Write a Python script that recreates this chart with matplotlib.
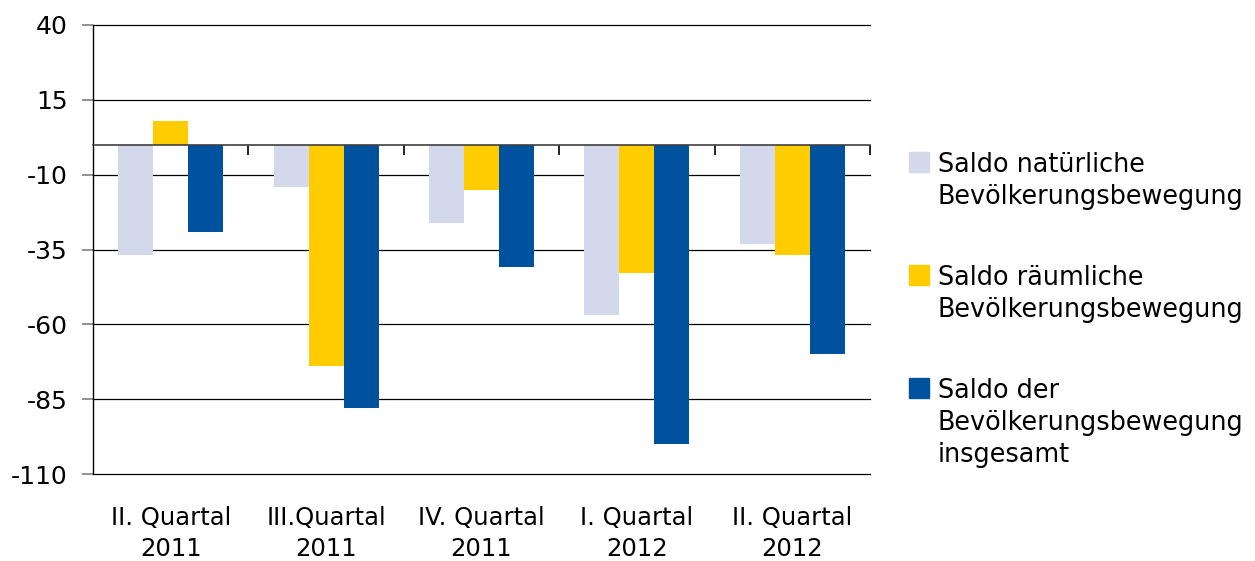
import matplotlib.pyplot as plt
from matplotlib.patches import Rectangle
import numpy as np

plt.rcParams['font.family'] = ['DejaVu Sans']

quarters = ["II. Quartal\n2011", "III.Quartal\n2011", "IV. Quartal\n2011",
            "I. Quartal\n2012", "II. Quartal\n2012"]
natuerlich = [-37, -14, -26, -57, -33]
raeumlich = [8, -74, -15, -43, -37]
insgesamt = [-29, -88, -41, -100, -70]
series_names = [["Saldo natürliche", "Bevölkerungsbewegung"],
                ["Saldo räumliche", "Bevölkerungsbewegung"],
                ["Saldo der", "Bevölkerungsbewegung", "insgesamt"]]
colors = ["#D3D8EB", "#FFCC00", "#00529F"]
yticks = [40, 15, -10, -35, -60, -85, -110]

W, H = 1255, 561
fig = plt.figure(figsize=(W / 100, H / 100), dpi=100)
ax = fig.add_axes([93 / W, 1 - 474 / H, (870 - 93) / W, (474 - 25) / H])

x = np.arange(len(quarters))
bw = 0.225
for i, (vals, c) in enumerate(zip([natuerlich, raeumlich, insgesamt], colors)):
    ax.bar(x + (i - 1) * bw, vals, width=bw, color=c, zorder=3)

ax.set_ylim(-110, 40)
ax.set_xlim(-0.5, len(quarters) - 0.5)
ax.set_yticks(yticks)
ax.set_yticklabels([str(t) for t in yticks])
ax.grid(axis='y', color='black', linewidth=0.9, zorder=1)
for gl in ax.get_ygridlines():
    gl.set_clip_on(False)
ax.tick_params(axis='y', length=8, width=1.2, color='#808080', pad=10,
               labelsize=18)

for s in ['top', 'right']:
    ax.spines[s].set_visible(False)
ax.spines['left'].set_color('black')
ax.spines['left'].set_linewidth(1)
ax.spines['left'].set_zorder(4)

# zero axis with boundary ticks
ax.spines['bottom'].set_position(('data', 0))
ax.spines['bottom'].set_color('#404040')
ax.spines['bottom'].set_linewidth(1.2)
ax.spines['bottom'].set_zorder(4)
ax.set_xticks(x + 0.5)
ax.tick_params(axis='x', length=7, width=1.2, direction='out', labelbottom=False)

# category labels at the bottom
sec = ax.secondary_xaxis(0)
sec.set_xticks(x)
sec.set_xticklabels(quarters, fontsize=17.5, linespacing=1.35)
sec.tick_params(length=0, pad=23)
sec.spines['bottom'].set_visible(False)

# legend to the right, square next to first line of each entry
legend_base = [172, 285, 398]
line_step = 32
for lines, c, yb in zip(series_names, colors, legend_base):
    fig.add_artist(Rectangle((909 / W, 1 - yb / H), 20 / W, 20 / H,
                             transform=fig.transFigure, color=c))
    for k, txt in enumerate(lines):
        fig.text(938 / W, 1 - (yb + k * line_step) / H, txt, fontsize=18.4,
                 va='baseline', ha='left')

plt.savefig('out.png', dpi=100)
